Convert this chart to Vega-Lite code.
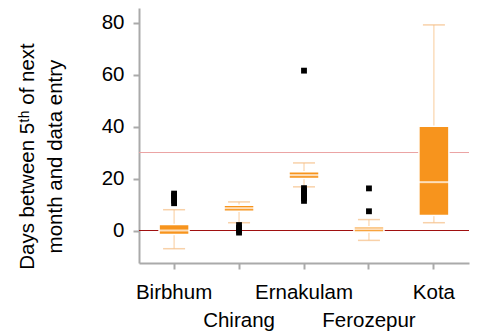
{
  "$schema": "https://vega.github.io/schema/vega-lite/v6.json",
  "width": 330,
  "height": 255,
  "autosize": {"type": "none"},
  "padding": {"left": 139, "top": 8, "right": 8, "bottom": 68},
  "background": "white",
  "config": {
    "view": {"stroke": null},
    "font": "Liberation Sans",
    "axis": {
      "grid": false,
      "domainColor": "#aaaaaa",
      "domainWidth": 2,
      "tickColor": "#aaaaaa",
      "tickWidth": 2,
      "tickSize": 6,
      "labelFont": "Liberation Sans",
      "labelFontSize": 20.5,
      "labelColor": "#000000",
      "titleFont": "Liberation Sans",
      "titleFontSize": 20.5,
      "titleFontWeight": "normal",
      "titleColor": "#000000"
    }
  },
  "datasets": {
    "stats": [
      {"district": "Birbhum", "lower": -7, "q1": -1.5, "median": 0, "q3": 2.3, "upper": 8},
      {"district": "Chirang", "lower": 3, "q1": 7.4, "median": 8.6, "q3": 9.7, "upper": 11},
      {"district": "Ernakulam", "lower": 16.8, "q1": 20, "median": 21.3, "q3": 22.6, "upper": 26},
      {"district": "Ferozepur", "lower": -3.8, "q1": -0.6, "median": 0.5, "q3": 1.4, "upper": 4.2},
      {"district": "Kota", "lower": 3, "q1": 5.8, "median": 18.6, "q3": 40.1, "upper": 79.1}
    ],
    "outliers": [
      {"district": "Birbhum", "value": 10.5},
      {"district": "Birbhum", "value": 11.5},
      {"district": "Birbhum", "value": 12.5},
      {"district": "Birbhum", "value": 13.5},
      {"district": "Birbhum", "value": 14.2},
      {"district": "Chirang", "value": -0.8},
      {"district": "Chirang", "value": 0},
      {"district": "Chirang", "value": 1},
      {"district": "Chirang", "value": 2.1},
      {"district": "Ernakulam", "value": 11.4},
      {"district": "Ernakulam", "value": 12.4},
      {"district": "Ernakulam", "value": 13.4},
      {"district": "Ernakulam", "value": 14.4},
      {"district": "Ernakulam", "value": 15.4},
      {"district": "Ernakulam", "value": 16.3},
      {"district": "Ernakulam", "value": 61.5},
      {"district": "Ferozepur", "value": 7.4},
      {"district": "Ferozepur", "value": 16.2}
    ],
    "refs": [
      {"level": 30, "kind": "target"},
      {"level": 0, "kind": "zero"}
    ]
  },
  "layer": [
    {
      "data": {"name": "refs"},
      "mark": {"type": "rule", "strokeWidth": 1},
      "encoding": {
        "y": {"field": "level", "type": "quantitative", "scale": {"domain": [-12.5, 85.6], "nice": false, "zero": false},
          "axis": {"values": [0, 20, 40, 60, 80], "labelPadding": 9, "title": ["Days between 5ᵗʰ of next", "month and data entry"], "titleX": -112, "titleY": 148, "titleAngle": -90, "titleAlign": "center", "titleBaseline": "middle", "titleLineHeight": 28}},
        "color": {"field": "kind", "type": "nominal", "scale": {"domain": ["target", "zero"], "range": ["#eba3a3", "#a01010"]}, "legend": null}
      }
    },
    {
      "data": {"name": "stats"},
      "mark": {"type": "rule", "color": "#f9cc9c", "strokeWidth": 1},
      "encoding": {
        "x": {"field": "district", "type": "nominal", "sort": null, "scale": {"paddingInner": 0, "paddingOuter": 0.04},
          "axis": {"title": null, "labelAngle": 0, "labelPadding": 13, "labelLineHeight": 28, "labelBaseline": "top",
            "labelExpr": "datum.value == 'Chirang' || datum.value == 'Ferozepur' ? ['', datum.label] : datum.label"}},
        "y": {"field": "lower", "type": "quantitative", "scale": {"domain": [-12.5, 85.6], "nice": false, "zero": false}},
        "y2": {"field": "upper"}
      }
    },
    {
      "data": {"name": "stats"},
      "mark": {"type": "tick", "color": "#f5bd85", "size": 22, "thickness": 1.5, "orient": "horizontal"},
      "encoding": {
        "x": {"field": "district", "type": "nominal", "sort": null},
        "y": {"field": "lower", "type": "quantitative", "scale": {"domain": [-12.5, 85.6], "nice": false, "zero": false}}
      }
    },
    {
      "data": {"name": "stats"},
      "mark": {"type": "tick", "color": "#f5bd85", "size": 22, "thickness": 1.5, "orient": "horizontal"},
      "encoding": {
        "x": {"field": "district", "type": "nominal", "sort": null},
        "y": {"field": "upper", "type": "quantitative", "scale": {"domain": [-12.5, 85.6], "nice": false, "zero": false}}
      }
    },
    {
      "data": {"name": "stats"},
      "mark": {"type": "bar", "color": "#f7941d", "size": 30, "stroke": "white", "strokeWidth": 1.5},
      "encoding": {
        "x": {"field": "district", "type": "nominal", "sort": null},
        "y": {"field": "q1", "type": "quantitative", "scale": {"domain": [-12.5, 85.6], "nice": false, "zero": false}},
        "y2": {"field": "q3"}
      }
    },
    {
      "data": {"name": "stats"},
      "mark": {"type": "tick", "color": "white", "size": 30, "thickness": 2, "orient": "horizontal"},
      "encoding": {
        "x": {"field": "district", "type": "nominal", "sort": null},
        "y": {"field": "median", "type": "quantitative", "scale": {"domain": [-12.5, 85.6], "nice": false, "zero": false}}
      }
    },
    {
      "data": {"name": "outliers"},
      "mark": {"type": "point", "shape": "square", "filled": true, "color": "#000000", "size": 34, "opacity": 1},
      "encoding": {
        "x": {"field": "district", "type": "nominal", "sort": null},
        "y": {"field": "value", "type": "quantitative", "scale": {"domain": [-12.5, 85.6], "nice": false, "zero": false}}
      }
    }
  ]
}
